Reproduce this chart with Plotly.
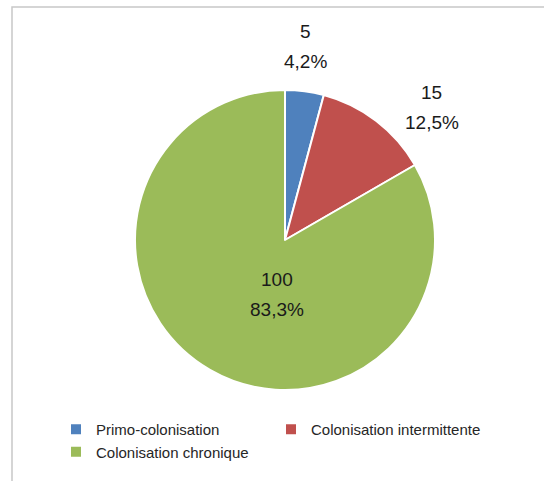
import math
import plotly.graph_objects as go

categories = ["Primo-colonisation", "Colonisation intermittente", "Colonisation chronique"]
values = [5, 15, 100]
colors = ["#4F81BD", "#C0504D", "#9BBB59"]

W, H = 544, 481
cx, cy, r = 285, 240, 150
label_font = dict(family="Liberation Sans, Arial", size=19, color="#1a1a1a")

fig = go.Figure(go.Pie(
    labels=categories,
    values=values,
    sort=False,
    direction="clockwise",
    rotation=0,
    marker=dict(colors=colors, line=dict(color="white", width=2)),
    textinfo="none",
    domain=dict(x=[(cx - r) / W, (cx + r) / W], y=[(H - cy - r) / H, (H - cy + r) / H]),
    automargin=False,
    hoverinfo="label+value+percent",
))

# data labels placed from each slice's mid-angle (Excel-like best-fit nudges)
total = sum(values)
cum = 0.0
label_dist = [185, 185, 60]
label_nudge = [(-4, -10), (34, 14), (22, 3)]
line_gap = 15
for v, d, (nx, ny) in zip(values, label_dist, label_nudge):
    mid = (cum + v / 2) / total * 2 * math.pi
    cum += v
    sx, sy = math.sin(mid), -math.cos(mid)  # screen direction (y down)
    px = cx + sx * d + nx
    py = cy + sy * d + ny
    pct = f"{v / total * 100:.1f}".replace(".", ",") + "%"
    for txt, off in ((str(v), -line_gap), (pct, line_gap)):
        fig.add_annotation(
            x=px / W, y=1 - (py + off) / H, xref="paper", yref="paper",
            text=txt, showarrow=False, font=label_font,
            xanchor="center", yanchor="middle",
        )

fig.update_layout(
    width=W, height=H,
    margin=dict(l=0, r=0, t=0, b=0),
    paper_bgcolor="white",
    showlegend=True,
    legend=dict(
        orientation="h",
        x=56 / W, xanchor="left",
        y=1 - 413 / H, yanchor="top",
        entrywidth=170, entrywidthmode="pixels",
        font=dict(family="Liberation Sans, Arial", size=15, color="#262626"),
        itemwidth=30,
        bgcolor="rgba(0,0,0,0)",
    ),
    shapes=[dict(type="rect", xref="paper", yref="paper",
                 x0=12 / W, x1=1.05, y0=-0.05, y1=1 - 7 / H,
                 line=dict(color="#C8C8C8", width=1.5), fillcolor="rgba(0,0,0,0)")],
)

fig.write_html("out.html")
